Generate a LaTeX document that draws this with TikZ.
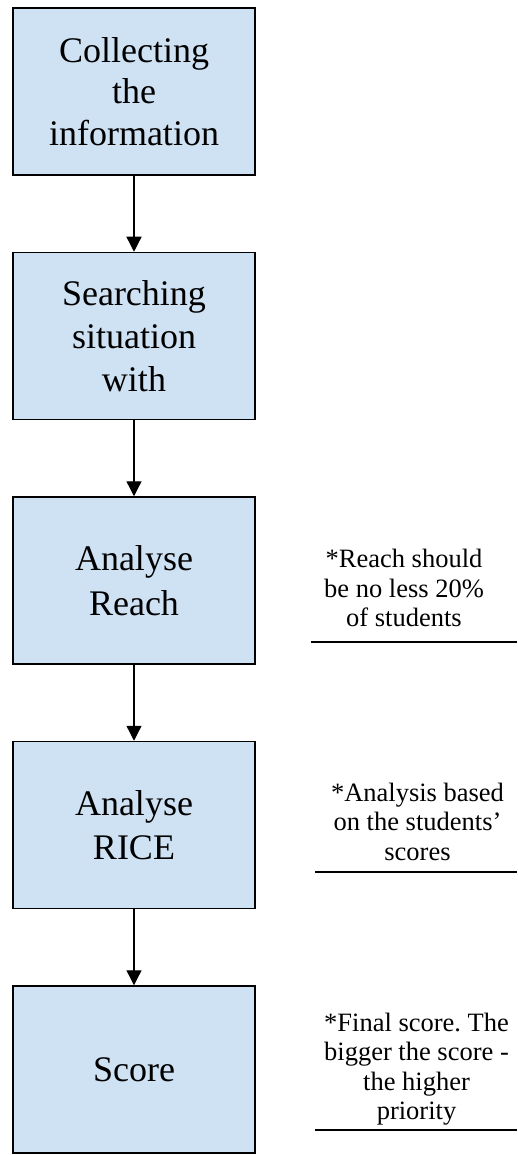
\documentclass[tikz,border=0pt]{standalone}
\usepackage{fontspec}
\setmainfont{Liberation Serif}
\usetikzlibrary{arrows.meta}
\definecolor{boxblue}{HTML}{CFE2F3}
\frenchspacing
\begin{document}
\begin{tikzpicture}[x=1pt,y=-1pt,
  stepbox/.style={draw=black,line width=1.5pt,fill=boxblue,minimum width=242pt,minimum height=167pt,inner sep=0pt,align=center},
  flow/.style={line width=1.3pt,-{Triangle[width=15pt,length=15pt]}},
  note/.style={align=center,inner sep=0pt,font=\fontsize{26.5}{29.5}\selectfont},
  rule/.style={line width=1.3pt}]
\useasboundingbox (0,0) rectangle (517,1155);
\node[stepbox,font=\fontsize{36}{41.5}\selectfont] (b1) at (134,91.5) {Collecting\\the\\information};
\node[stepbox,font=\fontsize{36}{43}\selectfont] (b2) at (134,336) {Searching\\situation\\with};
\node[stepbox,font=\fontsize{36}{44.5}\selectfont] (b3) at (134,580.5) {Analyse\\Reach};
\node[stepbox,font=\fontsize{36}{44}\selectfont] (b4) at (134,825) {Analyse\\RICE};
\node[stepbox,font=\fontsize{36}{41.5}\selectfont] (b5) at (134,1069.5) {Score};
\draw[flow] (b1) -- (b2);
\draw[flow] (b2) -- (b3);
\draw[flow] (b3) -- (b4);
\draw[flow] (b4) -- (b5);
\node[note] (n1) at (404,588) {*Reach should\\be no less 20\%\\of students};
\node[note] (n2) at (417.5,821.5) {*Analysis based\\on the students’\\scores};
\node[note] (n3) at (416.5,1069) {*Final score. The\\bigger the score -\\the higher\\priority};
\coordinate (l1a) at (311,642); \coordinate (l1b) at (517,642);
\coordinate (l2a) at (315,872); \coordinate (l2b) at (517,872);
\coordinate (l3a) at (315,1130); \coordinate (l3b) at (517,1130);
\draw[rule] (l1a) -- (l1b);
\draw[rule] (l2a) -- (l2b);
\draw[rule] (l3a) -- (l3b);
\end{tikzpicture}
\end{document}
